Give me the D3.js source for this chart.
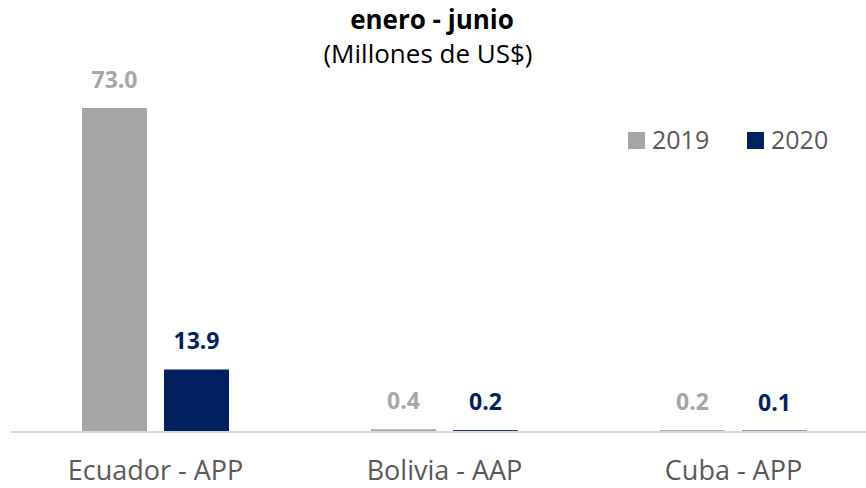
<!DOCTYPE html>
<html>
<head>
<meta charset="utf-8">
<script src="https://cdn.jsdelivr.net/npm/d3@7"></script>
<style>
  body { margin: 0; background: #fff; }
  text { font-family: "Open Sans", sans-serif; }
</style>
</head>
<body>
<div id="chart"></div>
<script>
// Data

var categories = ["Ecuador - APP", "Bolivia - AAP", "Cuba - APP"],
    series = ["2019", "2020"],
    values2019 = [73.0, 0.4, 0.2],
    values2020 = [13.9, 0.2, 0.1];

var colors = {"2019": "#a6a6a6", "2020": "#002060"};

var W = 866, H = 488;

var svg = d3.select("#chart").append("svg")
  .attr("width", W).attr("height", H);

// Scales

var x0 = d3.scaleBand().domain(categories).range([11, 878]).paddingInner(0).paddingOuter(0);
var x1 = d3.scaleBand().domain(series).range([71, 218]).paddingInner(0.207);
var y = d3.scaleLinear().domain([0, 73]).range([431, 108]);

var rows = categories.map(function(c, i) {
  return {cat: c, vals: [{s: "2019", v: values2019[i]}, {s: "2020", v: values2020[i]}]};
});

// Titles

svg.append("text").attr("x", 432).attr("y", 29).attr("text-anchor", "middle")
  .style("font-size", "26px").style("font-weight", "bold").style("fill", "#000")
  .text("enero - junio");

svg.append("text").attr("x", 428).attr("y", 63).attr("text-anchor", "middle")
  .style("font-size", "26px").style("fill", "#000")
  .text("(Millones de US$)");

// Bars

var g = svg.selectAll(".grp").data(rows).enter().append("g")
  .attr("class", "grp")
  .attr("transform", function(d) { return "translate(" + x0(d.cat) + ",0)"; });

g.selectAll("rect").data(function(d) { return d.vals; }).enter().append("rect")
  .attr("x", function(d) { return x1(d.s); })
  .attr("width", x1.bandwidth())
  .attr("y", function(d) { return y(d.v); })
  .attr("height", function(d) { return y(0) - y(d.v); })
  .style("fill", function(d) { return colors[d.s]; });

g.selectAll(".lbl").data(function(d) { return d.vals; }).enter().append("text")
  .attr("class", "lbl")
  .attr("x", function(d) { return x1(d.s) + x1.bandwidth() / 2; })
  .attr("y", function(d) { return y(d.v) - 20; })
  .attr("text-anchor", "middle")
  .style("font-size", "23px").style("font-weight", "bold")
  .style("fill", function(d) { return colors[d.s]; })
  .text(function(d) { return d3.format(".1f")(d.v); });

// Baseline and category axis

svg.append("line").attr("x1", 11).attr("x2", W).attr("y1", y(0) + 1).attr("y2", y(0) + 1)
  .style("stroke", "#d9d9d9").style("stroke-width", 2);

svg.selectAll(".cat").data(categories).enter().append("text")
  .attr("class", "cat")
  .attr("x", function(d) { return x0(d) + x0.bandwidth() / 2; })
  .attr("y", 480)
  .attr("text-anchor", "middle")
  .style("font-size", "27px").style("fill", "#595959")
  .text(function(d) { return d; });

// Legend

var leg = svg.selectAll(".leg").data(series).enter().append("g")
  .attr("class", "leg")
  .attr("transform", function(d, i) { return "translate(" + (628 + i * 119) + ",132)"; });

leg.append("rect").attr("width", 17).attr("height", 17)
  .style("fill", function(d) { return colors[d]; });

leg.append("text").attr("x", 24).attr("y", 17)
  .style("font-size", "25px").style("fill", "#595959")
  .text(function(d) { return d; });
</script>
</body>
</html>
